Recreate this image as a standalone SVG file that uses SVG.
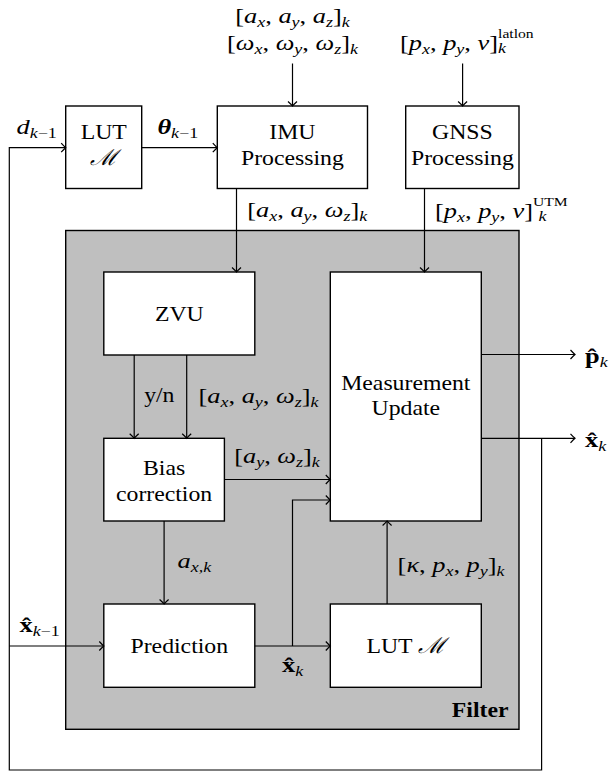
<svg xmlns="http://www.w3.org/2000/svg" width="611" height="775" viewBox="0 0 611 775" font-family="'Liberation Serif', 'Times New Roman', serif">
<defs>
<style>
.box{fill:#fff;stroke:#000;stroke-width:1.4}
.filt{fill:#bfbfbf;stroke:#000;stroke-width:1.4}
.ca{fill:none;stroke:#000;stroke-width:1.2;marker-end:url(#arr)}
text{font-family:'Liberation Serif','Times New Roman',serif;fill:#000}
.t{font-size:22px}
.m{font-size:22px}
.i{font-style:italic}
.s{font-size:15px;font-style:italic}
.r{font-size:15px;font-style:normal}
.sup{font-size:13px;font-style:normal}
.bh{font-weight:bold;font-style:normal}
</style>
<marker id="arr" markerUnits="userSpaceOnUse" markerWidth="10" markerHeight="10" refX="0" refY="0" orient="auto" overflow="visible">
<path d="M-4.5,-4.5 Q-1.5,-1.2 0,0 Q-1.5,1.2 -4.5,4.5" fill="none" stroke="#000" stroke-width="1.2"/>
</marker>
</defs>

<g id="filter">
<rect class="filt" x="65.7" y="230.5" width="453.3" height="498.8"/>
<text class="t" font-weight="bold" text-anchor="end" transform="translate(508.5,716.7) scale(1.08,1)">Filter</text>
</g>

<g id="lut1">
<rect class="box" x="65.7" y="106" width="76" height="82.5"/>
<text class="t" text-anchor="middle" transform="translate(103.7,139.3) scale(1.08,1)">LUT</text>
<text class="t" text-anchor="middle" font-style="italic" transform="translate(103.7,165) scale(1.08,1)">ℳ</text>
</g>

<g id="imu">
<rect class="box" x="217.3" y="106" width="150.2" height="82.5"/>
<text class="t" text-anchor="middle" transform="translate(292.4,139.3) scale(1.08,1)">IMU</text>
<text class="t" text-anchor="middle" transform="translate(292.4,165) scale(1.08,1)">Processing</text>
</g>

<g id="gnss">
<rect class="box" x="405.7" y="106" width="113.3" height="82.5"/>
<text class="t" text-anchor="middle" transform="translate(462.4,139) scale(1.08,1)">GNSS</text>
<text class="t" text-anchor="middle" transform="translate(462.4,165) scale(1.08,1)">Processing</text>
</g>

<g id="zvu">
<rect class="box" x="103.8" y="272" width="151" height="83"/>
<text class="t" text-anchor="middle" transform="translate(179.3,320.7) scale(1.08,1)">ZVU</text>
</g>

<g id="measurement">
<rect class="box" x="330.3" y="272" width="151" height="249"/>
<text class="t" text-anchor="middle" transform="translate(405.8,390) scale(1.08,1)">Measurement</text>
<text class="t" text-anchor="middle" transform="translate(405.8,415) scale(1.08,1)">Update</text>
</g>

<g id="bias">
<rect class="box" x="103.8" y="438.3" width="120.6" height="82.7"/>
<text class="t" text-anchor="middle" transform="translate(164.1,475) scale(1.08,1)">Bias</text>
<text class="t" text-anchor="middle" transform="translate(164.1,500.7) scale(1.08,1)">correction</text>
</g>

<g id="prediction">
<rect class="box" x="103.8" y="604" width="151" height="83.3"/>
<text class="t" text-anchor="middle" transform="translate(179.3,653.3) scale(1.08,1)">Prediction</text>
</g>

<g id="lut2">
<rect class="box" x="330.3" y="604" width="151" height="83.3"/>
<text class="t" text-anchor="middle" transform="translate(405.8,653.3) scale(1.08,1)">LUT <tspan font-style="italic">ℳ</tspan></text>
</g>

<g id="connectors">
<path class="ca" d="M292.5,63.5 V106"/>
<path class="ca" d="M462.6,63.5 V106"/>
<path class="ca" d="M141.7,147.7 H217.3"/>
<path class="ca" d="M541.6,438.3 V770 H9.3 V147.7 H65.7"/>
<path class="ca" d="M481.3,354.5 H575"/>
<path class="ca" d="M481.3,438.3 H575"/>
<path class="ca" d="M236.5,188.5 V272"/>
<path class="ca" d="M424.5,188.5 V272"/>
<path class="ca" d="M134.2,355 V438.3"/>
<path class="ca" d="M186.7,355 V438.3"/>
<path class="ca" d="M224.4,479.5 H330.3"/>
<path class="ca" d="M254.8,646 H330.3"/>
<path class="ca" d="M292.5,646 V500 H330.3"/>
<path class="ca" d="M387.1,604 V521"/>
<path class="ca" d="M164.1,521 V604"/>
<path class="ca" d="M9.3,646 H103.8"/>
</g>

<g id="labels">
<text class="m" text-anchor="middle" transform="translate(292.5,23) scale(1.2,1)">[<tspan class="i">a</tspan><tspan class="s" dy="3.5">x</tspan><tspan dy="-3.5">, </tspan><tspan class="i">a</tspan><tspan class="s" dy="3.5">y</tspan><tspan dy="-3.5">, </tspan><tspan class="i">a</tspan><tspan class="s" dy="3.5">z</tspan><tspan dy="-3.5">]</tspan><tspan class="s" dy="3.5">k</tspan></text>
<text class="m" text-anchor="middle" transform="translate(292.5,50) scale(1.2,1)">[<tspan class="i">ω</tspan><tspan class="s" dy="4">x</tspan><tspan dy="-4">, </tspan><tspan class="i">ω</tspan><tspan class="s" dy="4">y</tspan><tspan dy="-4">, </tspan><tspan class="i">ω</tspan><tspan class="s" dy="4">z</tspan><tspan dy="-4">]</tspan><tspan class="s" dy="4">k</tspan></text>
<text class="m" transform="translate(400,50) scale(1.2,1)">[<tspan class="i">p</tspan><tspan class="s" dy="4">x</tspan><tspan dy="-4">, </tspan><tspan class="i">p</tspan><tspan class="s" dy="4">y</tspan><tspan dy="-4">, </tspan><tspan class="i">v</tspan>]<tspan class="sup" dy="-12.5">latlon</tspan><tspan class="s" dx="-29.6" dy="15.2">k</tspan></text>
<text class="m" text-anchor="middle" transform="translate(177.8,134) scale(1.2,1)"><tspan font-weight="bold" font-style="italic">θ</tspan><tspan class="s" dy="4">k</tspan><tspan class="r">−1</tspan></text>
<text class="m" text-anchor="middle" transform="translate(36.7,134) scale(1.2,1)"><tspan class="i">d</tspan><tspan class="s" dy="4">k</tspan><tspan class="r">−1</tspan></text>
<text class="m" text-anchor="middle" transform="translate(307.2,216.7) scale(1.2,1)">[<tspan class="i">a</tspan><tspan class="s" dy="4">x</tspan><tspan dy="-4">, </tspan><tspan class="i">a</tspan><tspan class="s" dy="4">y</tspan><tspan dy="-4">, </tspan><tspan class="i">ω</tspan><tspan class="s" dy="4">z</tspan><tspan dy="-4">]</tspan><tspan class="s" dy="4">k</tspan></text>
<text class="m" transform="translate(435,218.3) scale(1.2,1)">[<tspan class="i">p</tspan><tspan class="s" dy="4">x</tspan><tspan dy="-4">, </tspan><tspan class="i">p</tspan><tspan class="s" dy="4">y</tspan><tspan dy="-4">, </tspan><tspan class="i">v</tspan>]<tspan class="sup" font-size="11px" dy="-12">UTM</tspan><tspan class="s" dx="-24.4" dy="15">k</tspan></text>
<text class="t" text-anchor="middle" transform="translate(159.3,402) scale(1.08,1)">y/n</text>
<text class="m" text-anchor="middle" transform="translate(258.5,403) scale(1.2,1)">[<tspan class="i">a</tspan><tspan class="s" dy="4">x</tspan><tspan dy="-4">, </tspan><tspan class="i">a</tspan><tspan class="s" dy="4">y</tspan><tspan dy="-4">, </tspan><tspan class="i">ω</tspan><tspan class="s" dy="4">z</tspan><tspan dy="-4">]</tspan><tspan class="s" dy="4">k</tspan></text>
<text class="m" text-anchor="middle" transform="translate(277,463.3) scale(1.2,1)">[<tspan class="i">a</tspan><tspan class="s" dy="4">y</tspan><tspan dy="-4">, </tspan><tspan class="i">ω</tspan><tspan class="s" dy="4">z</tspan><tspan dy="-4">]</tspan><tspan class="s" dy="4">k</tspan></text>
<text class="m" text-anchor="middle" transform="translate(194.3,568.3) scale(1.2,1)"><tspan class="i">a</tspan><tspan class="s" dy="4">x,k</tspan></text>
<text class="m" text-anchor="middle" transform="translate(451.1,571.7) scale(1.2,1)">[<tspan class="i">κ</tspan>, <tspan class="i">p</tspan><tspan class="s" dy="4">x</tspan><tspan dy="-4">, </tspan><tspan class="i">p</tspan><tspan class="s" dy="4">y</tspan><tspan dy="-4">]</tspan><tspan class="s" dy="4">k</tspan></text>
<text class="m" text-anchor="middle" transform="translate(292.6,671.7) scale(1.2,1)"><tspan class="bh">x̂</tspan><tspan class="s" dy="4">k</tspan></text>
<text class="m" text-anchor="middle" transform="translate(39.6,631.7) scale(1.2,1)"><tspan class="bh">x̂</tspan><tspan class="s" dy="4">k</tspan><tspan class="r">−1</tspan></text>
<text class="m" transform="translate(585,363) scale(1.2,1)"><tspan class="bh">p̂</tspan><tspan class="s" dy="4">k</tspan></text>
<text class="m" transform="translate(585,446.7) scale(1.2,1)"><tspan class="bh">x̂</tspan><tspan class="s" dy="4">k</tspan></text>
</g>
</svg>
